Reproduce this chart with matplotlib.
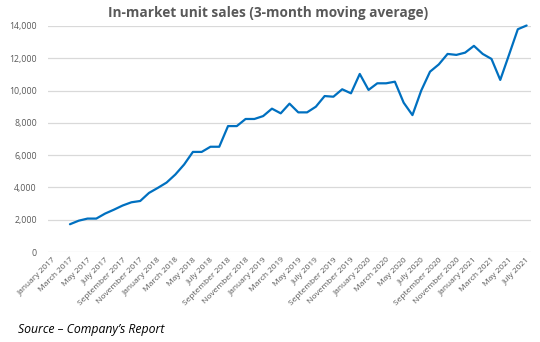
import matplotlib
matplotlib.use("Agg")
import matplotlib.pyplot as plt

months = ["January", "February", "March", "April", "May", "June", "July",
          "August", "September", "October", "November", "December"]
categories = [f"{months[m]} {y}" for y in range(2017, 2022) for m in range(12)][:55]

# 3-month moving average, starting March 2017 (index 2) through July 2021
start_index = 2
sales = [1720, 1940, 2070, 2070, 2380, 2620, 2880, 3080, 3160, 3660,
         3970, 4300, 4800, 5420, 6200, 6200, 6520, 6520, 7800, 7800,
         8240, 8240, 8420, 8880, 8590, 9190, 8650, 8650, 9000, 9660,
         9620, 10080, 9830, 11030, 10040, 10450, 10450, 10550, 9250, 8480,
         10000, 11170, 11620, 12270, 12210, 12350, 12770, 12270, 11960, 10660,
         12220, 13800, 14030]

yticks = [0, 2000, 4000, 6000, 8000, 10000, 12000, 14000]
title = "In-market unit sales (3-month moving average)"
source = "Source \u2013 Company\u2019s Report"

plt.rcParams['font.family'] = ['Open Sans', 'DejaVu Sans']

fig = plt.figure(figsize=(5.4, 3.42), dpi=100)
ax = fig.add_axes([48/540, 1-252/342, (531-48)/540, (252-26)/342])

x = list(range(start_index, start_index + len(sales)))
ax.plot(x, sales, color="#0070C0", linewidth=1.6, clip_on=False,
        solid_joinstyle="round", solid_capstyle="round")

ax.set_xlim(-0.5, len(categories) - 0.5)
ax.set_ylim(0, 14000)
ax.set_yticks(yticks)
ax.set_yticklabels([f"{v:,}" for v in yticks], fontsize=6.3, color="#595959")
ax.yaxis.grid(True, color="#d9d9d9", linewidth=0.9)
ax.set_axisbelow(True)

tick_pos = list(range(0, len(categories), 2))
ax.set_xticks(tick_pos)
ax.set_xticklabels([categories[i] for i in tick_pos], rotation=45, ha="right",
                   va="top", rotation_mode="anchor", fontsize=6.0, color="#595959")
ax.tick_params(axis="both", length=0)
ax.tick_params(axis="y", pad=8)
ax.tick_params(axis="x", pad=3)

for s in ax.spines.values():
    s.set_visible(False)

fig.text(0.497, 1-13/342, title, ha="center", va="center", fontsize=9.8,
         fontweight="bold", color="#595959")
fig.text(18/540, 1-329/342, source, ha="left", va="center", fontsize=8.8,
         style="italic", color="#000000")

fig.savefig("out.png", dpi=100)
